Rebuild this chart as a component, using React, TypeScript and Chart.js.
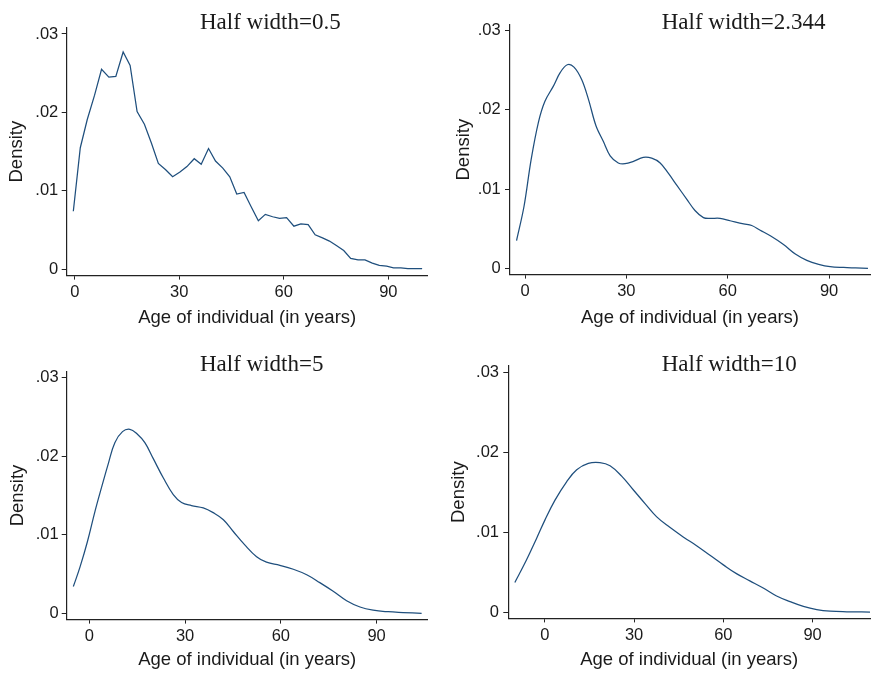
import React, { useEffect, useRef } from "react";
import { Chart, registerables } from "chart.js";

Chart.register(...registerables);

// ---------- data ----------
const xTicks = [0, 30, 60, 90];
const yTicks = [0, 0.01, 0.02, 0.03];
const yTickLabels = ["0", ".01", ".02", ".03"];
const xAxisTitle = "Age of individual (in years)";
const yAxisTitle = "Density";
const panelTitles = ["Half width=0.5", "Half width=2.344", "Half width=5", "Half width=10"];

const age05 = [-0.4, 1.6, 3.6, 5.7, 7.7, 9.8, 11.8, 13.9, 15.9, 17.9, 20.0, 22.0, 24.0, 26.1, 28.1, 30.2, 32.2, 34.3, 36.3, 38.4, 40.4, 42.5, 44.5, 46.5, 48.6, 50.6, 52.7, 54.7, 56.8, 58.8, 60.8, 62.9, 64.9, 67.0, 69.0, 71.1, 73.1, 75.2, 77.2, 79.2, 81.3, 83.3, 85.4, 87.4, 89.5, 91.5, 93.6, 95.6, 97.6, 99.7];
const dens05 = [0.0074, 0.0155, 0.0191, 0.0222, 0.0255, 0.0245, 0.0246, 0.0277, 0.0260, 0.0201, 0.0185, 0.0161, 0.0135, 0.0127, 0.0118, 0.0124, 0.0131, 0.0141, 0.0134, 0.0154, 0.0138, 0.0129, 0.0118, 0.0096, 0.0098, 0.0080, 0.0062, 0.0070, 0.0067, 0.0065, 0.0066, 0.0055, 0.0058, 0.0057, 0.0044, 0.0040, 0.0036, 0.0030, 0.0024, 0.0014, 0.0012, 0.0012, 0.0008, 0.0005, 0.0004, 0.0002, 0.0002, 0.0001, 0.0001, 0.0001];

const age2344 = [-2.5, -0.3, 1.8, 4.0, 5.9, 8.4, 10.4, 12.5, 14.5, 16.8, 18.8, 21.0, 23.2, 25.2, 27.6, 29.6, 32.1, 35.0, 37.5, 40.0, 42.4, 44.9, 47.9, 50.3, 52.8, 54.8, 57.7, 60.7, 64.7, 67.1, 69.6, 72.6, 76.5, 80.0, 83.4, 86.9, 90.3, 94.3, 97.8, 101.5];
const dens2344 = [0.0035, 0.0078, 0.0137, 0.0185, 0.0211, 0.0230, 0.0247, 0.0257, 0.0254, 0.0238, 0.0213, 0.0180, 0.0160, 0.0142, 0.0133, 0.0132, 0.0135, 0.0140, 0.0139, 0.0133, 0.0120, 0.0105, 0.0087, 0.0073, 0.0064, 0.0063, 0.0063, 0.0060, 0.0056, 0.0054, 0.0048, 0.0041, 0.0030, 0.0018, 0.0010, 0.0005, 0.0002, 0.0001, 0.00005, 0.0];

const age5 = [-5.0, -2.9, -0.6, 1.8, 3.9, 6.0, 8.0, 10.4, 12.7, 15.0, 17.4, 20.0, 23.2, 26.3, 28.9, 32.0, 35.7, 38.8, 42.0, 45.1, 48.7, 52.4, 55.5, 59.7, 63.9, 68.1, 72.2, 76.4, 80.6, 84.8, 88.9, 93.6, 98.3, 104.1];
const dens5 = [0.0034, 0.0059, 0.0091, 0.0130, 0.0161, 0.0191, 0.0217, 0.0231, 0.0234, 0.0228, 0.0217, 0.0197, 0.0172, 0.0151, 0.0141, 0.0137, 0.0134, 0.0128, 0.0119, 0.0104, 0.0087, 0.0072, 0.0065, 0.0061, 0.0056, 0.0049, 0.0039, 0.0028, 0.0016, 0.0008, 0.0004, 0.0002, 0.0001, 0.0];

const age10 = [-10.1, -6.2, -2.8, 0, 3.4, 7.3, 10.7, 14.6, 18.5, 21.9, 25.8, 29.7, 33.6, 37.6, 42.0, 46.5, 51.0, 55.5, 60.0, 64.4, 68.9, 73.4, 77.9, 82.4, 86.9, 91.4, 95.9, 101.5, 109.3];
const dens10 = [0.0037, 0.0065, 0.0092, 0.0115, 0.0140, 0.0163, 0.0178, 0.0186, 0.0187, 0.0183, 0.0170, 0.0153, 0.0136, 0.0119, 0.0106, 0.0094, 0.0083, 0.0071, 0.0059, 0.0048, 0.0039, 0.0030, 0.0020, 0.0013, 0.0007, 0.0003, 0.0001, 0.00003, 0.0];

const xMins = [-2.3, -4.44, -7.08, -12.3];
const xMaxs = [101.3, 102.1, 106.0, 109.3];
const yMin = -0.0008;
const yMaxs = [0.0308, 0.03076, 0.03076, 0.0308];

// ---------- layout / style ----------
const SANS = '"Liberation Sans", Arial, Helvetica, sans-serif';
const SERIF = '"Liberation Serif", "Times New Roman", Times, serif';
const TEXT = "#1a1a1a";
const AXIS = "#222222";
const LINE = "#1f4f7d";

const layouts = [
  { left: 0, top: 0, width: 435, height: 336, padTop: 27.7, padRight: 7.3, yW: 66.7, xH: 60.4, yTitlePad: 6.2, xTitlePad: 6.6, yTickPad: 3.4, xTickPad: 2.5, titleX: 200, titleY: 29.3 },
  { left: 435, top: 0, width: 436, height: 336, padTop: 24.7, padRight: 1, yW: 75, xH: 61.4, yTitlePad: 17.9, xTitlePad: 6.6, yTickPad: 4.3, xTickPad: 3, titleX: 226.7, titleY: 29.3 },
  { left: 0, top: 336, width: 435, height: 337, padTop: 35.4, padRight: 7.3, yW: 66.7, xH: 53.4, yTitlePad: 7.2, xTitlePad: 1.6, yTickPad: 3, xTickPad: 3, titleX: 200, titleY: 35 },
  { left: 435, top: 336, width: 436, height: 337, padTop: 29.9, padRight: 1, yW: 73.3, xH: 54.6, yTitlePad: 13.2, xTitlePad: 1.9, yTickPad: 4.3, xTickPad: 3.5, titleX: 226.7, titleY: 35 },
];

const seriesAges = [age05, age2344, age5, age10];
const seriesDens = [dens05, dens2344, dens5, dens10];
const tensions = [0, 0.35, 0.4, 0.4];

const panelTitlePlugin = {
  id: "panelTitle",
  afterDraw(chart: any, _args: any, opts: any) {
    const ctx = chart.ctx;
    ctx.save();
    ctx.font = `23px ${SERIF}`;
    ctx.fillStyle = TEXT;
    ctx.textAlign = "left";
    ctx.textBaseline = "alphabetic";
    ctx.fillText(opts.text, opts.x, opts.y);
    ctx.restore();
  },
};

function makeConfig(i: number): any {
  const L = layouts[i];
  const ages = seriesAges[i];
  const dens = seriesDens[i];
  return {
    type: "line",
    data: {
      datasets: [
        {
          data: ages.map((a, k) => ({ x: a, y: dens[k] })),
          borderColor: LINE,
          borderWidth: 1.25,
          pointRadius: 0,
          fill: false,
          tension: tensions[i],
        },
      ],
    },
    options: {
      animation: false,
      responsive: false,
      maintainAspectRatio: false,
      events: [],
      layout: { padding: { top: L.padTop, right: L.padRight, left: 0, bottom: 0 } },
      plugins: {
        legend: { display: false },
        tooltip: { enabled: false },
        title: { display: false },
        panelTitle: { text: panelTitles[i], x: L.titleX, y: L.titleY },
      },
      scales: {
        x: {
          type: "linear",
          min: xMins[i],
          max: xMaxs[i],
          afterBuildTicks: (s: any) => {
            s.ticks = xTicks.map((v) => ({ value: v }));
          },
          afterFit: (s: any) => {
            s.height = L.xH;
          },
          grid: { drawOnChartArea: false, drawTicks: true, tickLength: 4, color: AXIS, lineWidth: 1 },
          border: { display: true, color: AXIS, width: 1.2 },
          ticks: {
            padding: L.xTickPad,
            color: TEXT,
            font: { family: SANS, size: 16.5 },
            maxRotation: 0,
            autoSkip: false,
            callback: (v: any) => String(v),
          },
          title: {
            display: true,
            text: xAxisTitle,
            color: TEXT,
            font: { family: SANS, size: 18.5 },
            padding: { top: 0, bottom: L.xTitlePad },
          },
        },
        y: {
          type: "linear",
          min: yMin,
          max: yMaxs[i],
          afterBuildTicks: (s: any) => {
            s.ticks = yTicks.map((v) => ({ value: v }));
          },
          afterFit: (s: any) => {
            s.width = L.yW;
          },
          grid: { drawOnChartArea: false, drawTicks: true, tickLength: 5, color: AXIS, lineWidth: 1 },
          border: { display: true, color: AXIS, width: 1.2 },
          ticks: {
            padding: L.yTickPad,
            color: TEXT,
            font: { family: SANS, size: 16.5 },
            autoSkip: false,
            callback: (v: any) => {
              const idx = yTicks.findIndex((t) => Math.abs(t - v) < 1e-9);
              return idx >= 0 ? yTickLabels[idx] : "";
            },
          },
          title: {
            display: true,
            text: yAxisTitle,
            color: TEXT,
            font: { family: SANS, size: 18.5 },
            padding: { top: L.yTitlePad, bottom: 0 },
          },
        },
      },
    },
    plugins: [panelTitlePlugin],
  };
}

function Panel({ index }: { index: number }) {
  const ref = useRef<HTMLCanvasElement | null>(null);
  useEffect(() => {
    if (!ref.current) return;
    const chart = new Chart(ref.current, makeConfig(index));
    return () => chart.destroy();
  }, [index]);
  const L = layouts[index];
  return (
    <canvas
      ref={ref}
      width={L.width}
      height={L.height}
      style={{ position: "absolute", left: L.left, top: L.top, width: L.width, height: L.height }}
    />
  );
}

export default function App() {
  return (
    <div style={{ position: "absolute", left: 0, top: 0, width: 871, height: 673, background: "#ffffff", overflow: "hidden" }}>
      {[0, 1, 2, 3].map((i) => (
        <Panel key={i} index={i} />
      ))}
    </div>
  );
}
